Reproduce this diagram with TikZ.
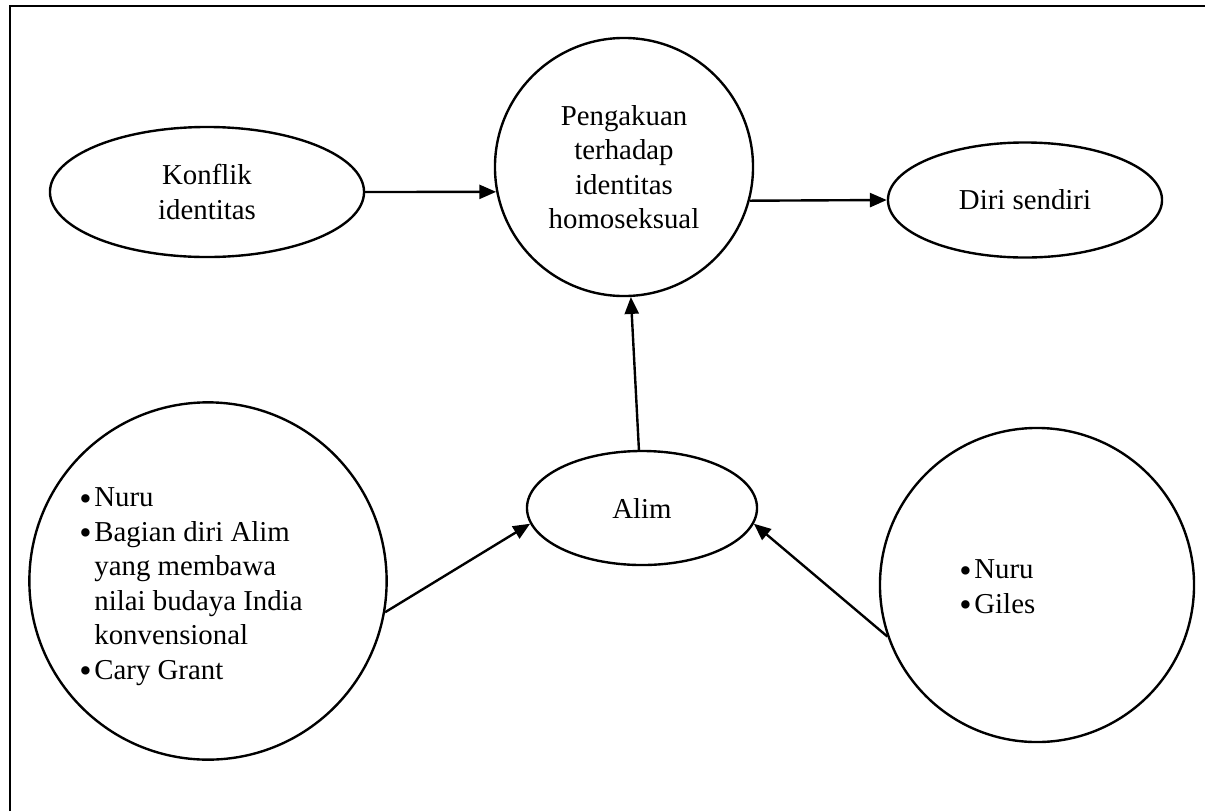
\documentclass[tikz,border=0pt]{standalone}
\usepackage{fontspec}
\setmainfont{Liberation Serif}
\usetikzlibrary{shapes.geometric, arrows.meta, positioning}

\newcommand{\blt}{\raisebox{-2.5pt}{\fontsize{25}{24}\selectfont\textbullet}}

\begin{document}
\begin{tikzpicture}[
    x=0.025cm, y=-0.025cm,
    >={Triangle[length=12pt, width=10pt]},
    font=\fontsize{20.5}{24.5}\selectfont,
    oval/.style={ellipse, draw=black, line width=1.7pt, inner sep=0pt, align=center},
    ring/.style={circle, draw=black, line width=1.7pt, inner sep=0pt, align=center},
    list/.style={anchor=west, inner sep=0pt, align=left},
    arrow/.style={->, line width=1.7pt}
]
\useasboundingbox (0,0) rectangle (1205,811);

% ---- Frame (left and top edge only) ----
\draw[line width=1.4pt] (10,811) -- (10,6) -- (1205,6);

% ---- Top row ----
\node[oval, minimum width=7.85cm, minimum height=3.25cm] (konflik) at (207,192) {Konflik\\ identitas};
\node[ring, minimum size=6.45cm, text depth=-4pt] (pengakuan) at (624,167) {Pengakuan\\ terhadap\\ identitas\\ homoseksual};
\node[oval, minimum width=6.85cm, minimum height=2.875cm] (diri) at (1025,200) {Diri sendiri};

% ---- Bottom row ----
\node[oval, minimum width=5.75cm, minimum height=2.85cm] (alim) at (642,508) {Alim};
\node[ring, minimum size=8.93cm] (leftc) at (208,581) {};
\node[ring, minimum size=7.85cm] (rightc) at (1037,585) {};

\node[list] (leftlist) at (79,586) {%
  \begin{tabular}{@{}l@{\hspace{2pt}}l@{}}
  \blt & Nuru\\
  \blt & Bagian diri Alim\\
       & yang membawa\\
       & nilai budaya India\\
       & konvensional\\
  \blt & Cary Grant
  \end{tabular}};
\node[list] (rightlist) at (959,589) {%
  \begin{tabular}{@{}l@{\hspace{2pt}}l@{}}
  \blt & Nuru\\
  \blt & Giles
  \end{tabular}};

% ---- Connections ----
\draw[arrow] (konflik.east) -- (pengakuan.191);
\draw[arrow] (pengakuan.-15) -- (diri.west);
\draw[arrow] (alim) -- (pengakuan);
\draw[arrow] (leftc.-10) -- (alim.188);
\draw[arrow] (rightc.199) -- (alim.-8);

\end{tikzpicture}
\end{document}
